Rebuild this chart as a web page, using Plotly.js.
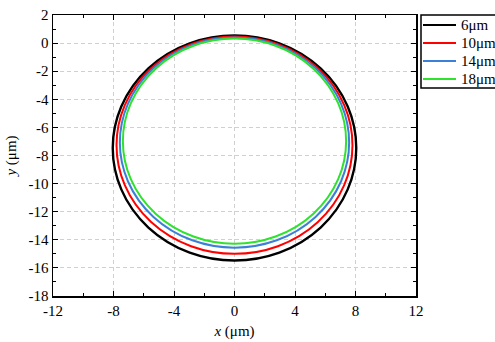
<!DOCTYPE html>
<html>
<head>
<meta charset="utf-8">
<script src="https://cdn.plot.ly/plotly-3.0.1.min.js"></script>
<style>html,body{margin:0;padding:0;background:#fff;}#chart{width:495px;height:342px;}</style>
</head>
<body>
<div id="chart"></div>
<script>
// Series: each curve is a closed loop, given by its extents
const seriesNames = ['6\u03bcm', '10\u03bcm', '14\u03bcm', '18\u03bcm'];
const seriesColors = ['#000000', '#ff0000', '#3a7fd8', '#2ee22e'];
const xMinVals = [-8.05, -7.80, -7.58, -7.38];
const xMaxVals = [8.05, 7.80, 7.58, 7.38];
const yMinVals = [-15.47, -15.00, -14.56, -14.28];
const yMaxVals = [0.54, 0.47, 0.40, 0.32];
const xTicks = [-12, -8, -4, 0, 4, 8, 12];
const yTicks = [-18, -16, -14, -12, -10, -8, -6, -4, -2, 0, 2];

const font = 'Liberation Serif, Times New Roman, DejaVu Serif, serif';
const W = 495, H = 342;
const M = {l: 53, r: 79, t: 15, b: 46};
const pw = W - M.l - M.r, ph = H - M.t - M.b;
const px = v => (v - M.l) / pw;   // pixel -> paper x
const py = v => (H - M.b - v) / ph; // pixel -> paper y

const traces = seriesNames.map((n, i) => ({
  x: [null], y: [null], type: 'scatter', mode: 'lines', name: n,
  showlegend: false, line: {color: seriesColors[i], width: 2}
}));

const shapes = seriesNames.map((n, i) => ({
  type: 'circle', xref: 'x', yref: 'y', layer: 'above',
  x0: xMinVals[i], x1: xMaxVals[i], y0: yMinVals[i], y1: yMaxVals[i],
  line: {color: seriesColors[i], width: i === 0 ? 2.4 : 2}
}));

// Legend box (drawn by hand to match the compact spacing of the original)
const annotations = [];
shapes.push({type: 'rect', xref: 'paper', yref: 'paper',
  x0: px(421), x1: px(498), y0: py(88), y1: py(15),
  line: {color: '#000', width: 1.5}, fillcolor: '#fff'});
seriesNames.forEach((n, i) => {
  const yy = py(25 + 18 * i);
  shapes.push({type: 'line', xref: 'paper', yref: 'paper',
    x0: px(423), x1: px(456), y0: yy, y1: yy,
    line: {color: seriesColors[i], width: 2}});
  annotations.push({xref: 'paper', yref: 'paper', x: px(459), y: yy,
    xanchor: 'left', yanchor: 'middle', text: n, showarrow: false,
    font: {family: font, size: 15, color: '#000'}});
});

const axisCommon = {
  showline: true, linecolor: '#000', linewidth: 1.5, mirror: 'allticks',
  ticks: 'inside', ticklen: 5, tickwidth: 1, tickcolor: '#000',
  showgrid: true, gridcolor: '#d0d0d0', griddash: '4px,3px', gridwidth: 1,
  zeroline: false, tickfont: {family: font, size: 15, color: '#000'},
  minor: {ticks: 'inside', ticklen: 3, tickcolor: '#000', showgrid: false}
};

const layout = {
  width: W, height: H,
  margin: {l: M.l, r: M.r, t: M.t, b: M.b, autoexpand: false},
  paper_bgcolor: '#fff', plot_bgcolor: '#fff',
  font: {family: font, size: 15, color: '#000'},
  showlegend: false,
  xaxis: Object.assign({}, axisCommon, {
    range: [-12, 12], tickvals: xTicks, ticktext: xTicks.map(String),
    minor: Object.assign({}, axisCommon.minor, {dtick: 2, tick0: 0}),
    title: {text: '<i>x</i> (\u03bcm)', font: {family: font, size: 15}, standoff: 8}
  }),
  yaxis: Object.assign({}, axisCommon, {
    range: [-18, 2], tickvals: yTicks, ticktext: yTicks.map(String),
    minor: Object.assign({}, axisCommon.minor, {dtick: 1, tick0: 0}),
    title: {text: '<i>y</i> (\u03bcm)', font: {family: font, size: 15}, standoff: 8}
  }),
  shapes: shapes,
  annotations: annotations
};

Plotly.newPlot('chart', traces, layout, {staticPlot: true, displayModeBar: false});
</script>
</body>
</html>
